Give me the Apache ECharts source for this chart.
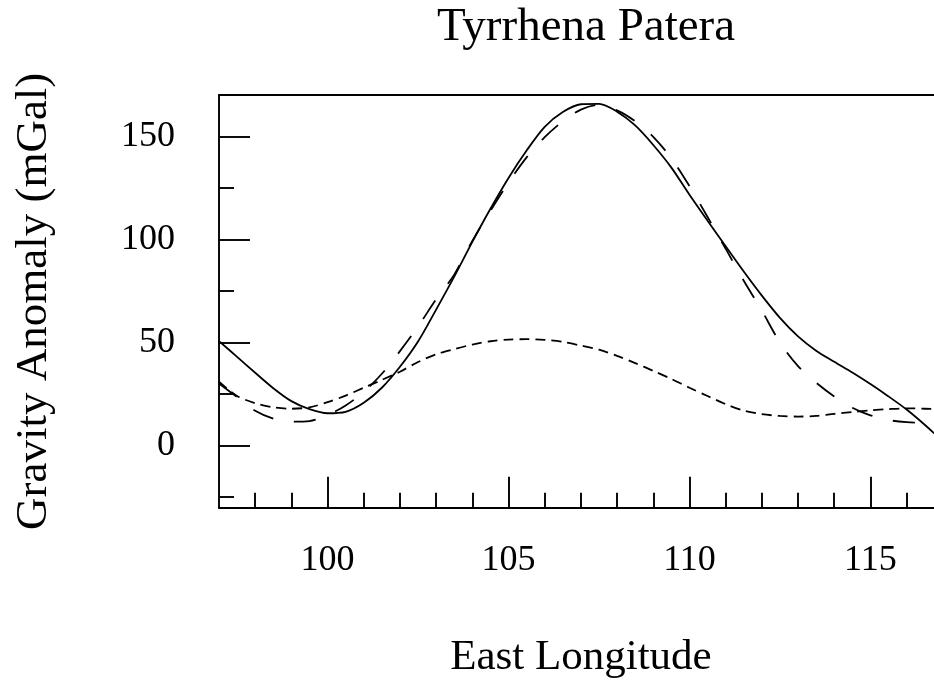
<!DOCTYPE html>
<html>
<head>
<meta charset="utf-8">
<title>Tyrrhena Patera</title>
<script src="https://cdn.jsdelivr.net/npm/echarts@6/dist/echarts.min.js"></script>
<style>
  html, body { margin: 0; padding: 0; background: #fff; }
  #chart { width: 934px; height: 683px; }
</style>
</head>
<body>
<div id="chart"></div>
<script>
// longitude samples (deg E)
const lon = [
  97, 97.5, 98, 98.5, 99, 99.5, 100, 100.5, 101, 101.5,
  102, 102.5, 103, 103.5, 104, 104.5, 105, 105.5, 106, 106.5,
  107, 107.5, 108, 108.5, 109, 109.5, 110, 110.5, 111, 111.5,
  112, 112.5, 113, 113.5, 114, 114.5, 115, 115.5, 116, 116.5, 117
];
// observed anomaly (solid)
const observed = [
  50.7, 43, 35.3, 27.8, 21.5, 17.6, 15.6, 16.3, 20.7, 28,
  38.2, 50.5, 66, 82, 98.9, 115, 130, 143.3, 154.8, 162,
  165.8, 166, 162.2, 155.5, 146, 135, 121.8, 109.2, 96.8, 84.5,
  72.8, 62, 53, 46, 40.6, 35.4, 29.8, 23.8, 17.4, 10, 2
];
// model 1 (long dash)
const model1 = [
  30, 23.5, 16.8, 13, 11.5, 11.8, 14.7, 19.4, 26, 34.8,
  45.8, 57.8, 71, 83, 99.4, 114, 127.8, 140, 149.8, 157.5,
  163.2, 165.5, 162.8, 157.5, 150, 139.5, 126, 111, 95.6, 80,
  65.5, 50, 38.5, 30.5, 23.8, 18.3, 14.6, 12.3, 11.3, 11, 11
];
// model 2 (short dash)
const model2 = [
  30.9, 24, 20.5, 18.5, 17.8, 18.5, 21, 24.2, 28, 31.8,
  35.8, 40.5, 44.3, 46.8, 49, 50.6, 51.4, 51.6, 51.3, 50.3,
  48.5, 46.5, 43.5, 40, 36.2, 32.3, 28, 24, 20, 16.9,
  15.2, 14.3, 14, 14.3, 15.3, 16.2, 17, 17.6, 18, 17.8, 17.5
];
const xMajor = [100, 105, 110, 115];
const xMinor = [98, 99, 101, 102, 103, 104, 106, 107, 108, 109, 111, 112, 113, 114, 116];
const yMajor = [0, 50, 100, 150];
const yMinor = [-25, 25, 75, 125];

const pairs = (ys) => lon.map((x, i) => [x, ys[i]]);

const FONT = '"Liberation Serif", "Times New Roman", serif';
const X_MIN = 97, X_MAX = 117, Y_MIN = -30.3, Y_MAX = 170.3;

const chart = echarts.init(document.getElementById('chart'), null, { renderer: 'canvas' });

const lineStyleAxis = { color: '#000', width: 1.9 };
const baseX = {
  type: 'value', position: 'bottom', min: X_MIN, max: X_MAX,
  splitLine: { show: false },
};
const baseY = {
  type: 'value', position: 'left', min: Y_MIN, max: Y_MAX,
  splitLine: { show: false },
};

const options = {
  animation: false,
  backgroundColor: '#fff',
  title: {
    text: 'Tyrrhena Patera',
    left: 581, top: -1, textAlign: 'center',
    textStyle: { fontFamily: FONT, fontSize: 47, fontWeight: 'normal', color: '#000' },
  },
  // plot box runs past the right edge of the picture (to 117)
  grid: {
    left: 219, top: 95, width: 723.8, height: 412.7,
    outerBoundsMode: 'none',
    containLabel: false,
    show: false,
  },
  xAxis: [
    {
      ...baseX,
      name: 'East Longitude', nameLocation: 'middle', nameGap: 129,
      nameTextStyle: { fontFamily: FONT, fontSize: 43, color: '#000' },
      axisLine: { show: true, onZero: false, lineStyle: lineStyleAxis },
      axisTick: { show: true, inside: true, length: 31, customValues: xMajor, lineStyle: lineStyleAxis },
      axisLabel: { customValues: xMajor, margin: 35, fontFamily: FONT, fontSize: 36, color: '#000' },
    },
    {
      ...baseX,
      axisLine: { show: false, onZero: false },
      axisTick: { show: true, inside: true, length: 15, customValues: xMinor, lineStyle: lineStyleAxis },
      axisLabel: { show: false },
    },
    {
      // top frame line
      ...baseX, position: 'top',
      axisLine: { show: true, onZero: false, lineStyle: lineStyleAxis },
      axisTick: { show: false },
      axisLabel: { show: false },
    },
  ],
  yAxis: [
    {
      ...baseY,
      name: 'Gravity Anomaly (mGal)', nameLocation: 'middle', nameGap: 162,
      nameTextStyle: { fontFamily: FONT, fontSize: 45, color: '#000' },
      axisLine: { show: true, onZero: false, lineStyle: lineStyleAxis },
      axisTick: { show: true, inside: true, length: 31, customValues: yMajor, lineStyle: lineStyleAxis },
      axisLabel: { customValues: yMajor, margin: 44, fontFamily: FONT, fontSize: 36, color: '#000' },
    },
    {
      ...baseY,
      axisLine: { show: false, onZero: false },
      axisTick: { show: true, inside: true, length: 15, customValues: yMinor, lineStyle: lineStyleAxis },
      axisLabel: { show: false },
    },
  ],
  series: [
    {
      name: 'observed', type: 'line', data: pairs(observed),
      xAxisIndex: 0, yAxisIndex: 0, smooth: 0.3, symbol: 'none',
      lineStyle: { color: '#000', width: 1.8, type: 'solid' },
    },
    {
      name: 'model 1', type: 'line', data: pairs(model1),
      xAxisIndex: 0, yAxisIndex: 0, smooth: 0.3, symbol: 'none',
      lineStyle: { color: '#000', width: 1.8, type: [22, 21] },
    },
    {
      name: 'model 2', type: 'line', data: pairs(model2),
      xAxisIndex: 0, yAxisIndex: 0, smooth: 0.3, symbol: 'none',
      lineStyle: { color: '#000', width: 1.8, type: [10, 6] },
    },
  ],
};

chart.setOption(options);
</script>
</body>
</html>
